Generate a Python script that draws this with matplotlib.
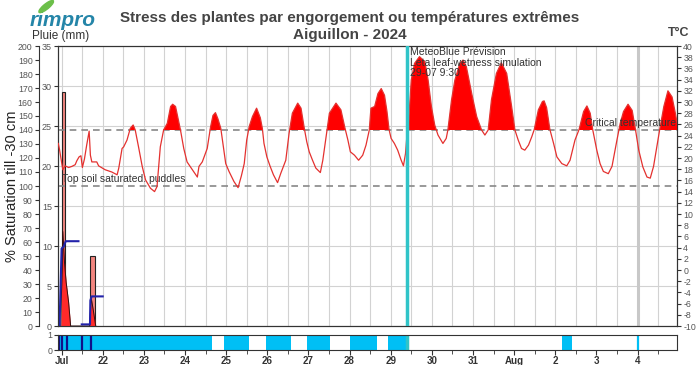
import matplotlib
matplotlib.use('Agg')
import matplotlib.pyplot as plt
import numpy as np
from matplotlib.patches import Ellipse

plt.rcParams['font.family'] = ['Liberation Sans', 'DejaVu Sans']
plt.rcParams['axes.unicode_minus'] = False

# ---------------- data ----------------
# x positions are days after 21 Jul 2024 00:00
day_labels = ['Jul', '22', '23', '24', '25', '26', '27', '28', '29', '30', '31', 'Aug', '2', '3', '4']

temp_day = [-0.08, -0.05, 0.03, 0.085, 0.17, 0.25, 0.33, 0.37, 0.425, 0.47, 0.505, 0.555, 0.61, 0.67, 0.70,
            0.735, 0.855, 0.90, 1.06, 1.22, 1.35, 1.39, 1.47, 1.51, 1.59, 1.67, 1.74, 1.79, 1.87, 1.96,
            2.04, 2.16, 2.26, 2.32, 2.40, 2.48, 2.57, 2.65, 2.70, 2.77, 2.83, 2.89, 2.97, 3.05, 3.18,
            3.30, 3.34, 3.42, 3.54, 3.62, 3.68, 3.74, 3.80, 3.87, 3.91, 3.99, 4.07, 4.19, 4.29, 4.37,
            4.44, 4.50, 4.56, 4.64, 4.74, 4.83, 4.88, 4.92, 4.99, 5.07, 5.15, 5.25, 5.33, 5.45, 5.53,
            5.61, 5.74, 5.82, 5.90, 5.96, 6.02, 6.10, 6.18, 6.29, 6.35, 6.43, 6.51, 6.67, 6.79, 6.89,
            6.96, 7.02, 7.12, 7.22, 7.32, 7.40, 7.48, 7.52, 7.61, 7.69, 7.77, 7.85, 7.91, 7.96, 8.01,
            8.09, 8.17, 8.25, 8.31, 8.36, 8.40, 8.44, 8.50, 8.58, 8.70, 8.83, 8.91, 8.99, 9.07, 9.15,
            9.27, 9.35, 9.39, 9.48, 9.56, 9.68, 9.76, 9.84, 9.97, 10.09, 10.21, 10.29, 10.37, 10.45, 10.57,
            10.69, 10.82, 10.94, 11.02, 11.10, 11.18, 11.26, 11.35, 11.43, 11.49, 11.59, 11.69, 11.73, 11.79, 11.87,
            11.96, 12.04, 12.16, 12.28, 12.36, 12.48, 12.58, 12.69, 12.77, 12.85, 12.91, 13.01, 13.09, 13.17, 13.29,
            13.38, 13.50, 13.58, 13.66, 13.77, 13.87, 13.95, 14.03, 14.13, 14.23, 14.31, 14.39, 14.47, 14.54, 14.64,
            14.74, 14.84, 14.92, 14.99, 15.05]
temp_c = [22.6, 21.5, 17.9, 18.6, 18.3, 18.5, 18.8, 19.5, 20.2, 20.4, 18.3, 19.8, 22.3, 24.8, 20.5,
          19.3, 19.3, 18.6, 17.9, 17.5, 17.0, 18.2, 21.7, 22.0, 23.2, 25.3, 25.9, 25.0, 22.0, 18.5,
          16.1, 14.6, 14.0, 14.9, 22.0, 25.0, 26.2, 29.2, 29.6, 29.2, 27.1, 25.0, 21.7, 19.3, 17.9,
          16.6, 18.5, 19.3, 21.7, 25.5, 27.6, 28.1, 27.0, 25.3, 23.2, 19.0, 17.6, 15.8, 14.7, 16.8,
          19.0, 23.2, 25.6, 27.4, 28.9, 27.2, 25.3, 22.6, 20.2, 18.5, 17.0, 15.6, 17.3, 19.6, 24.4,
          28.0, 29.8, 28.9, 25.3, 22.9, 21.1, 19.6, 18.2, 17.4, 19.6, 23.8, 28.0, 29.8, 28.6, 25.3,
          23.2, 21.1, 20.5, 19.6, 20.5, 22.3, 25.0, 28.9, 29.2, 31.5, 32.4, 31.2, 28.3, 25.1, 23.5,
          22.6, 21.4, 19.7, 18.6, 20.8, 24.5, 27.0, 33.9, 36.9, 38.1, 37.2, 33.9, 29.2, 25.9, 24.1,
          22.6, 23.5, 25.0, 30.4, 33.9, 36.9, 37.5, 36.3, 31.5, 27.4, 25.0, 24.1, 25.0, 30.4, 35.1,
          37.0, 35.1, 29.2, 25.0, 23.2, 21.7, 21.4, 22.3, 23.8, 25.1, 28.6, 30.1, 30.2, 29.0, 25.1,
          22.6, 20.2, 19.0, 18.6, 19.6, 23.2, 25.1, 28.3, 29.3, 28.0, 25.1, 21.4, 19.0, 17.6, 17.2,
          18.5, 23.2, 26.2, 28.3, 29.6, 28.5, 25.1, 21.4, 18.4, 16.6, 16.4, 18.5, 22.0, 25.1, 29.2,
          32.0, 30.9, 28.0, 25.1, 23.2]

critical_temp = 25
puddles_saturation = 100

rain_bar_start = [0.0, 0.69]
rain_bar_end = [0.09, 0.80]
rain_bar_mm = [29.2, 8.8]

rain_int_day = [-0.02, 0.03, 0.07, 0.11, 0.17, 0.22, 0.68, 0.72, 0.77, 0.83]
rain_int_mm = [0.0, 11.8, 8.0, 5.5, 3.0, 0.0, 0.0, 3.5, 2.0, 0.0]

cum_rain_day = [-0.05, 0.0, 0.05, 0.10, 0.41, np.nan, 0.49, 0.69, 0.70, 0.73, 1.0]
cum_rain_mm = [0.0, 9.7, 9.9, 10.6, 10.6, np.nan, 0.2, 0.2, 3.2, 3.7, 3.7]

wet_start = [-0.08, 3.94, 4.97, 5.96, 7.01, 7.93, 12.17]
wet_end = [3.66, 4.55, 5.57, 6.53, 7.67, 8.40, 12.40]
wet_marks = [14.0]
rain_marks = [-0.06, 0.0, 0.13, 0.49, 0.72]
forecast_day = 8.396

# ---------------- figure ----------------
fig = plt.figure(figsize=(7, 3.65), dpi=100)
L, Rr = 58.3 / 700, 677 / 700
ax = fig.add_axes([L, 1 - 326 / 365, Rr - L, 280 / 365])
axs = fig.add_axes([L, 1 - 350 / 365, Rr - L, 15 / 365])

XMIN, XMAX = -0.08, 14.96
spine_c = '#333333'
tick_c = '#555555'

# main (rain mm) axis
ax.set_xlim(XMIN, XMAX)
ax.set_ylim(0, 35)
ax.set_xticks(range(15))
ax.set_xticks(np.arange(0.5, 15, 1), minor=True)
ax.tick_params(axis='x', which='both', length=0, labelbottom=False)
ax.set_yticks(range(0, 36, 5))
ax.tick_params(axis='y', labelsize=6.5, labelcolor=tick_c, length=3, color=spine_c, pad=1.5)
ax.grid(True, which='both', axis='x', color='#d2d2d2', lw=0.8)
ax.grid(True, which='major', axis='y', color='#d2d2d2', lw=0.8)
ax.set_axisbelow(True)
for s in ax.spines.values():
    s.set_color(spine_c)

ax.axvline(14.0, color='#c8c8c8', lw=2.2, zorder=1)

# rain bars
for s0, s1, h in zip(rain_bar_start, rain_bar_end, rain_bar_mm):
    ax.bar(s0, h, width=s1 - s0, align='edge', color='#f2857f', edgecolor='#222222', lw=0.8, zorder=3)
ax.fill_between(rain_int_day, 0, rain_int_mm, color='#ff2a2a', zorder=4, lw=0)
ax.plot(rain_int_day, rain_int_mm, color='#331111', lw=0.7, zorder=4)
ax.plot(cum_rain_day, cum_rain_mm, color='#2222aa', lw=1.5, zorder=5)

# saturation axis (outer left)
ax2 = ax.twinx()
ax2.set_ylim(0, 200)
ax2.yaxis.tick_left()
ax2.yaxis.set_label_position('left')
ax2.spines['left'].set_position(('outward', 14))
ax2.spines['left'].set_visible(True)
ax2.spines['left'].set_color(spine_c)
ax2.spines['right'].set_visible(False)
ax2.spines['top'].set_visible(False)
ax2.spines['bottom'].set_visible(False)
ax2.set_yticks(range(0, 201, 10))
ax2.tick_params(axis='y', labelsize=6.3, labelcolor=tick_c, length=3, color=spine_c, pad=1.5)
ax2.axhline(puddles_saturation, color='#888888', lw=1.2, ls=(0, (4, 3)), zorder=2)
ax2.text(0.02, puddles_saturation + 1.5, 'Top soil saturated: puddles', fontsize=7.5,
         color='#333333', va='bottom', ha='left')

# temperature axis (right)
ax3 = ax.twinx()
ax3.set_ylim(-10, 40)
ax3.set_yticks(range(-10, 41, 2))
ax3.tick_params(axis='y', labelsize=6.3, labelcolor=tick_c, length=3, color=spine_c, pad=1.5)
for s in ax3.spines.values():
    s.set_color(spine_c)
ax3.axhline(critical_temp, color='#888888', lw=1.2, ls=(0, (4, 3)), zorder=2)
td = np.array(temp_day)
tc = np.array(temp_c)
ax3.fill_between(td, critical_temp, tc, where=tc > critical_temp, interpolate=True,
                 color='#ff0000', lw=0, zorder=3)
ax3.plot(td, tc, color='#e4312f', lw=0.9, zorder=4)
ax3.text(XMAX - 0.03, critical_temp + 0.3, 'Critical temperature', fontsize=7.5,
         color='#333333', ha='right', va='bottom', zorder=6)
ax3.axvline(forecast_day, color='#30c4c8', lw=2.5, zorder=5)
ax3.text(forecast_day + 0.08, 39.8, 'MeteoBlue Prévision\nLeta leaf-wetness simulation\n29-07 9:30',
         fontsize=7.5, color='#333333', ha='left', va='top', linespacing=1.05, zorder=6)
ax3.set_xlim(XMIN, XMAX)

# strip (leaf wetness)
axs.set_xlim(XMIN, XMAX)
axs.set_ylim(0, 1)
for s0, s1 in zip(wet_start, wet_end):
    axs.axvspan(s0, s1, color='#00bff5', lw=0)
for m in wet_marks:
    axs.axvline(m, color='#00bff5', lw=1.6)
for m in rain_marks:
    axs.axvline(m, color='#10108a', lw=1.6)
axs.axvline(forecast_day, color='#30c4c8', lw=2.5)
axs.set_yticks([0, 1])
axs.tick_params(axis='y', labelsize=6.3, labelcolor=tick_c, length=3, color=spine_c, pad=1.5)
axs.set_xticks(range(15))
axs.set_xticklabels(day_labels, fontsize=7, fontweight='bold', color='#333333')
axs.set_xticks(np.arange(0.5, 15, 1), minor=True)
axs.tick_params(axis='x', which='major', length=3.5, color=spine_c, pad=0.5)
axs.tick_params(axis='x', which='minor', length=3, color=spine_c)
for s in axs.spines.values():
    s.set_color(spine_c)

# texts
fig.text(0.5, 0.951, 'Stress des plantes par engorgement ou températures extrêmes',
         ha='center', va='center', fontsize=11, fontweight='bold', color='#444444')
fig.text(0.5, 0.905, 'Aiguillon - 2024', ha='center', va='center', fontsize=11,
         fontweight='bold', color='#444444')
fig.text(0.017, 0.49, '% Saturation till -30 cm', rotation=90, ha='center', va='center',
         fontsize=10.5, color='#222222')
fig.text(0.046, 0.901, 'Pluie (mm)', ha='left', va='center', fontsize=8.5, color='#333333')
fig.text(0.969, 0.91, 'T°C', ha='center', va='center', fontsize=9, fontweight='bold', color='#444444')
fig.text(0.042, 0.943, 'rimpro', ha='left', va='center', fontsize=15, fontweight='bold',
         fontstyle='italic', color='#2485a8')
leaf = Ellipse((0.066, 0.982), 0.010, 0.038, angle=-30, transform=fig.transFigure,
               color='#6cbf4a', zorder=10)
fig.patches.append(leaf)

fig.savefig('out.png', dpi=100)
